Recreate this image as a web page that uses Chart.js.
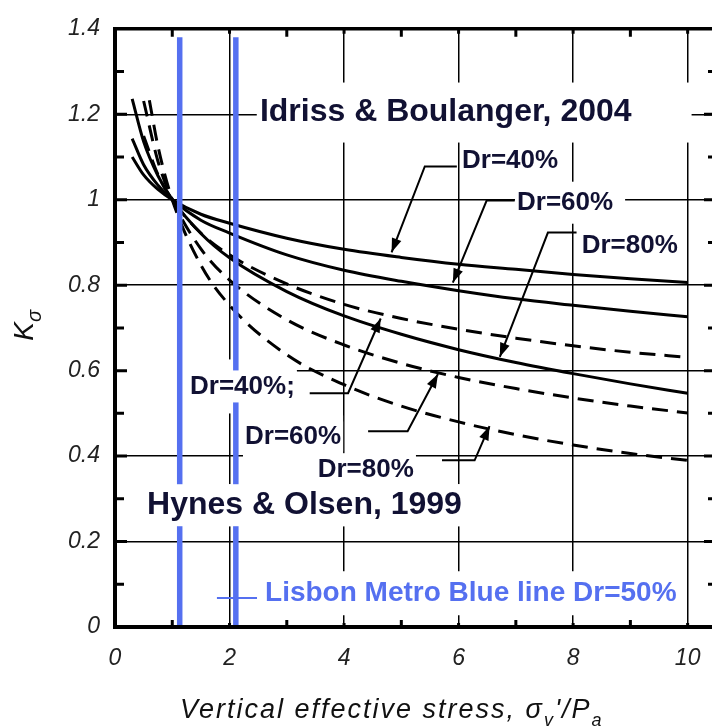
<!DOCTYPE html>
<html>
<head>
<meta charset="utf-8">
<script src="https://cdn.jsdelivr.net/npm/chart.js@4.4.0/dist/chart.umd.min.js"></script>
<style>
  html, body { margin: 0; padding: 0; background: #fff; overflow: hidden; width: 712px; height: 727px; }
  #wrap { position: absolute; left: 0; top: 0; width: 724px; height: 727px; }
</style>
</head>
<body>
<div id="wrap"><canvas id="ksigma" width="724" height="727"></canvas></div>
<script>
(function () {
  // Idriss & Boulanger, 2004 (solid)
  const ibX = [0.3, 0.5, 0.75, 1, 1.5, 2, 3, 4, 5, 6, 7, 8, 9, 10];
  const ib40 = [1.1, 1.058, 1.024, 1.0, 0.966, 0.945, 0.91, 0.884, 0.865, 0.849, 0.837, 0.825, 0.815, 0.806];
  const ib60 = [1.143, 1.082, 1.034, 1.0, 0.952, 0.922, 0.871, 0.835, 0.809, 0.787, 0.768, 0.753, 0.739, 0.726];
  const ib80 = [1.236, 1.136, 1.056, 1.0, 0.921, 0.864, 0.785, 0.728, 0.685, 0.649, 0.619, 0.593, 0.569, 0.547];

  // Hynes & Olsen, 1999 (dashed)
  const hoX40 = [0.5, 0.75, 1, 1.5, 2, 3, 4, 5, 6, 7, 8, 9, 10];
  const ho40 = [1.149, 1.059, 1.0, 0.922, 0.871, 0.803, 0.755, 0.722, 0.697, 0.676, 0.658, 0.643, 0.631];
  const hoX60 = [0.5, 0.75, 1, 1.5, 2, 3, 4, 5, 6, 7, 8, 9, 10];
  const ho60 = [1.231, 1.09, 1.0, 0.885, 0.812, 0.719, 0.66, 0.617, 0.584, 0.558, 0.536, 0.517, 0.501];
  const hoX80 = [0.6, 0.75, 1, 1.5, 2, 3, 4, 5, 6, 7, 8, 9, 10];
  const ho80 = [1.233, 1.125, 1.0, 0.847, 0.753, 0.637, 0.567, 0.517, 0.48, 0.45, 0.426, 0.406, 0.39];

  // Lisbon Metro Blue line, Dr=50% (vertical stress range)
  const lisbonX = [1.13, 2.11];
  const lisbonK = [0, 1.38];

  const xTicks = [0, 2, 4, 6, 8, 10];
  const xTickLabels = ["0", "2", "4", "6", "8", "10"];
  const yTicks = [0, 0.2, 0.4, 0.6, 0.8, 1, 1.2, 1.4];
  const yTickLabels = ["0", "0.2", "0.4", "0.6", "0.8", "1", "1.2", "1.4"];

  const FONT = '"Liberation Sans", Arial, sans-serif';
  const NAVY = "#111133";
  const BLUE = "#5570f0";

  const pts = (xs, ys) => xs.map((v, i) => ({ x: v, y: ys[i] }));

  // annotation texts, anchored in data units (left edge, vertical centre)
  const labels = [
    { text: "Idriss & Boulanger, 2004", x: 2.53, y: 1.204, size: 32, color: NAVY, pad: [3, 3, 3], erase: [3, 60, 14] },
    { text: "Dr=40%", x: 6.06, y: 1.092, size: 26, color: NAVY, pad: [2, 2, 2], erase: [2, 2, 3] },
    { text: "Dr=60%", x: 7.02, y: 0.993, size: 26, color: NAVY, pad: [2, 2, 2], erase: [2, 12, 8] },
    { text: "Dr=80%", x: 8.15, y: 0.891, size: 26, color: NAVY, pad: [2, 2, 2], erase: [2, 2, 3] },
    { text: "Dr=40%;", x: 1.31, y: 0.563, size: 26, color: NAVY, pad: [2, 2, 3], erase: [76, 2, 14] },
    { text: "Dr=60%", x: 2.27, y: 0.446, size: 26, color: NAVY, pad: [2, 2, 2], erase: [2, 2, 8] },
    { text: "Dr=80%", x: 3.54, y: 0.367, size: 26, color: NAVY, pad: [2, 2, 2], erase: [2, 2, 4] },
    { text: "Hynes & Olsen, 1999", x: 0.56, y: 0.285, size: 32, color: NAVY, pad: [3, 3, 5], erase: [3, 3, 5] },
    { text: "Lisbon Metro Blue line Dr=50%", x: 2.62, y: 0.079, size: 28, color: BLUE, pad: [2, 2, 3], erase: [2, 4, 8] },
  ];

  // leader lines: last point is the arrow tip
  const leaders = [
    { pts: [[5.97, 1.078], [5.41, 1.078], [4.83, 0.877]], arrow: true, color: "#000" },
    { pts: [[6.98, 0.998], [6.49, 0.998], [5.9, 0.806]], arrow: true, color: "#000" },
    { pts: [[8.06, 0.923], [7.56, 0.923], [6.72, 0.632]], arrow: true, color: "#000" },
    { pts: [[3.4, 0.547], [4.07, 0.547], [4.64, 0.722]], arrow: true, color: "#000" },
    { pts: [[4.42, 0.458], [5.11, 0.458], [5.64, 0.592]], arrow: true, color: "#000" },
    { pts: [[5.71, 0.39], [6.28, 0.39], [6.54, 0.47]], arrow: true, color: "#000" },
    { pts: [[1.78, 0.068], [2.48, 0.068]], arrow: false, color: BLUE },
  ];

  function labelBox(ctx, l, pad, sx, sy) {
    ctx.font = `bold ${l.size}px ${FONT}`;
    const w = ctx.measureText(l.text).width;
    const x0 = sx.getPixelForValue(l.x);
    const yc = sy.getPixelForValue(l.y);
    return [x0 - pad[0], yc - l.size / 2 - pad[2], w + pad[0] + pad[1], l.size + 2 * pad[2]];
  }

  const eraser = {
    id: "eraser",
    beforeDatasetsDraw(chart) {
      const { ctx, scales: { x, y } } = chart;
      ctx.save();
      ctx.fillStyle = "#fff";
      labels.forEach((l) => {
        const b = labelBox(ctx, l, l.erase, x, y);
        ctx.fillRect(b[0], b[1], b[2], b[3]);
      });
      ctx.restore();
    },
  };

  function drawRuns(ctx, x0, base, runs, size, subSize) {
    let cx = x0;
    runs.forEach((r) => {
      const s = r.sub ? subSize : size;
      ctx.font = `italic ${s}px ${FONT}`;
      ctx.fillText(r.t, cx, base + (r.sub ? Math.round(size * 0.28) : 0));
      cx += ctx.measureText(r.t).width;
    });
  }

  const deco = {
    id: "deco",
    afterDatasetsDraw(chart) {
      const { ctx, chartArea: a, scales: { x, y } } = chart;
      const px = (v) => x.getPixelForValue(v);
      const py = (v) => y.getPixelForValue(v);
      ctx.save();

      // white boxes behind texts
      ctx.fillStyle = "#fff";
      labels.forEach((l) => {
        const b = labelBox(ctx, l, l.pad, x, y);
        ctx.fillRect(b[0], b[1], b[2], b[3]);
      });

      // leader lines and arrows
      leaders.forEach((ld) => {
        ctx.strokeStyle = ld.color;
        ctx.fillStyle = ld.color;
        ctx.lineWidth = 2;
        ctx.beginPath();
        ld.pts.forEach((p, i) => {
          const X = px(p[0]), Y = py(p[1]);
          if (i === 0) ctx.moveTo(X, Y); else ctx.lineTo(X, Y);
        });
        ctx.stroke();
        if (ld.arrow) {
          const n = ld.pts.length;
          const tx = px(ld.pts[n - 1][0]), ty = py(ld.pts[n - 1][1]);
          const fx = px(ld.pts[n - 2][0]), fy = py(ld.pts[n - 2][1]);
          const ang = Math.atan2(ty - fy, tx - fx);
          const L = 14, W = 5;
          ctx.beginPath();
          ctx.moveTo(tx, ty);
          ctx.lineTo(tx - L * Math.cos(ang) + W * Math.sin(ang), ty - L * Math.sin(ang) - W * Math.cos(ang));
          ctx.lineTo(tx - L * Math.cos(ang) - W * Math.sin(ang), ty - L * Math.sin(ang) + W * Math.cos(ang));
          ctx.closePath();
          ctx.fill();
        }
      });

      // texts
      ctx.textBaseline = "middle";
      ctx.textAlign = "left";
      labels.forEach((l) => {
        ctx.font = `bold ${l.size}px ${FONT}`;
        ctx.fillStyle = l.color;
        ctx.fillText(l.text, px(l.x), py(l.y));
      });

      // frame
      ctx.strokeStyle = "#000";
      ctx.lineWidth = 4;
      ctx.beginPath();
      ctx.moveTo(a.left, a.top - 1);
      ctx.lineTo(a.left, a.bottom + 2);
      ctx.moveTo(a.left - 2, a.bottom);
      ctx.lineTo(a.right + 2, a.bottom);
      ctx.stroke();
      ctx.lineWidth = 3.5;
      ctx.beginPath();
      ctx.moveTo(a.left - 2, a.top);
      ctx.lineTo(a.right + 2, a.top);
      ctx.moveTo(a.right, a.top);
      ctx.lineTo(a.right, a.bottom);
      ctx.stroke();

      // inward tick marks
      ctx.lineWidth = 3;
      ctx.beginPath();
      for (let v = 1; v < 10.5; v += 1) {
        const X = px(v);
        const len = v % 2 ? 7 : 4;
        ctx.moveTo(X, a.bottom);
        ctx.lineTo(X, a.bottom - len);
        ctx.moveTo(X, a.top);
        ctx.lineTo(X, a.top + len + 1);
      }
      for (let k = 1; k < 14; k++) {
        const Y = py(k / 10);
        const major = k % 2 === 0;
        ctx.moveTo(a.left, Y);
        ctx.lineTo(a.left + (major ? 12 : 9), Y);
        ctx.moveTo(a.right, Y);
        ctx.lineTo(a.right - (major ? 18 : 14), Y);
      }
      ctx.stroke();

      // axis titles
      ctx.fillStyle = "#111";
      ctx.textBaseline = "alphabetic";
      ctx.letterSpacing = "2px";
      drawRuns(ctx, a.left + 65, a.bottom + 91, [
        { t: "Vertical effective stress, σ" },
        { t: "v", sub: true },
        { t: "'/P" },
        { t: "a", sub: true },
      ], 27, 18);
      ctx.letterSpacing = "0px";

      ctx.translate(a.left - 82, a.top + 312);
      ctx.rotate(-Math.PI / 2);
      drawRuns(ctx, 0, 0, [{ t: "K" }, { t: "σ", sub: true }], 28, 20);

      ctx.restore();
    },
  };

  const solid = (data) => ({
    data,
    borderColor: "#000",
    borderWidth: 3,
    pointRadius: 0,
    showLine: true,
    cubicInterpolationMode: "monotone",
  });
  const dashed = (data) => Object.assign(solid(data), { borderDash: [16, 9] });
  const blueLine = (xv) => ({
    data: pts([xv, xv], lisbonK),
    borderColor: BLUE,
    borderWidth: 5.5,
    pointRadius: 0,
    showLine: true,
  });

  new Chart(document.getElementById("ksigma"), {
    type: "scatter",
    data: {
      datasets: [
        blueLine(lisbonX[0]),
        blueLine(lisbonX[1]),
        solid(pts(ibX, ib40)),
        solid(pts(ibX, ib60)),
        solid(pts(ibX, ib80)),
        dashed(pts(hoX40, ho40)),
        dashed(pts(hoX60, ho60)),
        dashed(pts(hoX80, ho80)),
      ],
    },
    options: {
      responsive: false,
      animation: false,
      events: [],
      layout: { padding: { left: 0, top: 28, right: 2, bottom: 0 } },
      plugins: { legend: { display: false }, tooltip: { enabled: false } },
      scales: {
        x: {
          type: "linear",
          min: 0,
          max: 10.6,
          afterBuildTicks: (s) => { s.ticks = xTicks.map((v) => ({ value: v })); },
          afterFit: (s) => { s.height = 100; },
          border: { display: false },
          grid: { color: "#000", lineWidth: 1.5, drawTicks: false },
          ticks: {
            padding: 18,
            maxRotation: 0,
            autoSkip: false,
            color: "#222",
            font: { family: FONT, style: "italic", size: 23 },
            callback: (v, i) => xTickLabels[i],
          },
        },
        y: {
          min: 0,
          max: 1.4,
          afterBuildTicks: (s) => { s.ticks = yTicks.map((v) => ({ value: v })); },
          afterFit: (s) => { s.width = 115; },
          border: { display: false },
          grid: { color: "#000", lineWidth: 1.5, drawTicks: false },
          ticks: {
            padding: 15,
            autoSkip: false,
            color: "#222",
            font: { family: FONT, style: "italic", size: 23 },
            callback: (v, i) => yTickLabels[i],
          },
        },
      },
    },
    plugins: [eraser, deco],
  });
})();
</script>
</body>
</html>
